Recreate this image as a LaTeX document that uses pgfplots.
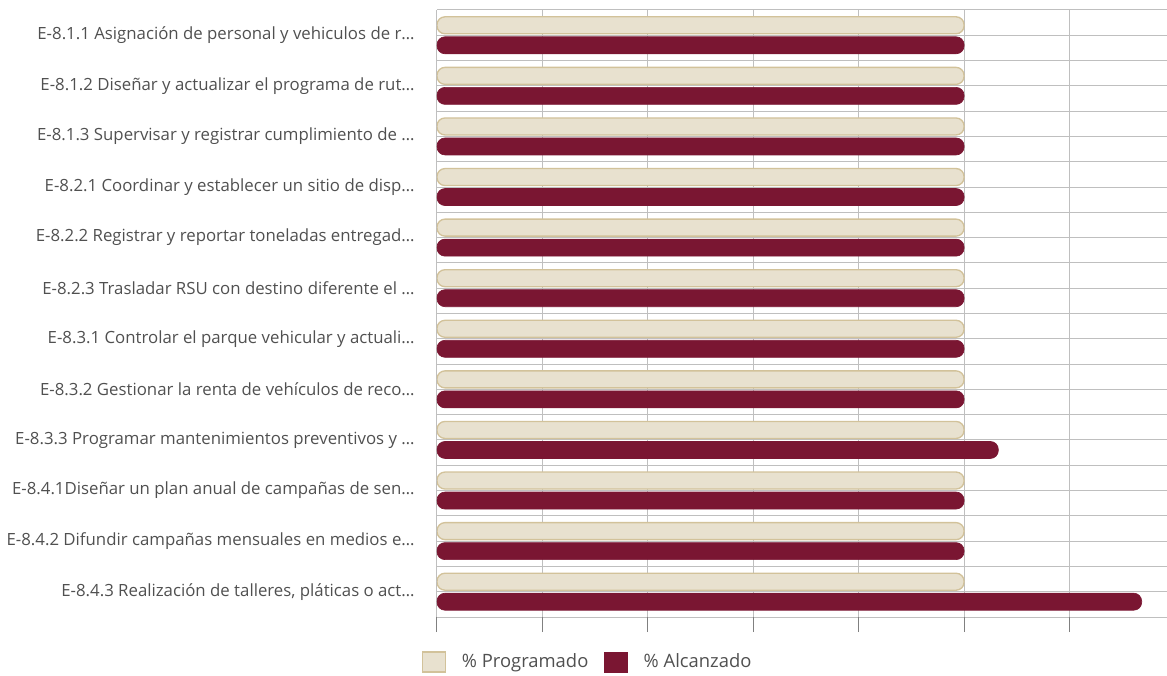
\documentclass[border=0pt]{standalone}
\usepackage{pgfplots}
\pgfplotsset{compat=1.18}
\usepackage{fontspec}
\setmainfont{Open Sans}
\definecolor{grid}{HTML}{E3E3E3}
\definecolor{lab}{HTML}{505050}
\definecolor{progfill}{HTML}{E8E1CF}
\definecolor{progdraw}{HTML}{D2C29A}
\definecolor{alc}{HTML}{7A1632}
\begin{document}
\begin{tikzpicture}[x=1pt,y=1pt]
\path[use as bounding box] (-327.75,-43.5) rectangle (547.5,462.75);
\begin{axis}[
  at={(0,0)}, anchor=south west,
  scale only axis, width=547.5pt, height=455.25pt,
  xmin=0, xmax=138.5, ymin=-0.5, ymax=11.5,
  axis line style={draw=none},
  xtick={0,20,...,120}, xticklabel=\empty,
  xmajorgrids, major grid style={grid, line width=0.75pt},
  minor grid style={grid, line width=0.75pt},
  tick style={grid, line width=0.75pt},
  tick align=outside, xtick pos=left, ytick pos=left,
  major tick length=11.25pt, minor tick length=16.5pt,
  ytick={0,...,11},
  yticklabels={
    E-8.4.3 Realización de talleres{,} pláticas o act…,
    E-8.4.2 Difundir campañas mensuales en medios e…,
    E-8.4.1Diseñar un plan anual de campañas de sen…,
    E-8.3.3 Programar mantenimientos preventivos y …,
    E-8.3.2 Gestionar la renta de vehículos de reco…,
    E-8.3.1 Controlar el parque vehicular y actuali…,
    E-8.2.3 Trasladar RSU con destino diferente el …,
    E-8.2.2 Registrar y reportar toneladas entregad…,
    E-8.2.1 Coordinar y establecer un sitio de disp…,
    E-8.1.3 Supervisar y registrar cumplimiento de …,
    E-8.1.2 Diseñar y actualizar el programa de rut…,
    E-8.1.1 Asignación de personal y vehiculos de r…},
  ytick style={draw=none},
  minor ytick={-0.5,0.5,...,11.5}, yminorgrids,
  minor tick style={grid, line width=0.75pt},
  yticklabel style={font=\fontsize{12.6}{15}\selectfont, text=lab, xshift=-2pt},
  xbar, bar width=12.75pt,
  legend style={at={(axis description cs:0,0)}, anchor=west, xshift=-14.5pt, yshift=-33.75pt,
    draw=none, fill=none, font=\fontsize{13.8}{16}\selectfont, text=lab,
    legend columns=2, column sep=9pt,
    nodes={inner xsep=3pt}},
  legend cell align=left,
]
\addplot[fill=progfill, draw=progdraw, line width=1pt, rounded corners=6pt, bar shift=7.5pt,
  legend image code/.code={\draw[sharp corners, fill=progfill, draw=progdraw, line width=1pt] (0pt,-7.5pt) rectangle (17pt,7.5pt);}]
  coordinates {(100,11) (100,10) (100,9) (100,8) (100,7) (100,6) (100,5) (100,4) (100,3) (100,2) (100,1) (100,0)};
\addplot[fill=alc, draw=alc, line width=0.5pt, rounded corners=6pt, bar shift=-7.5pt,
  legend image code/.code={\draw[sharp corners, fill=alc, draw=alc] (0pt,-7.5pt) rectangle (17pt,7.5pt);}]
  coordinates {(100,11) (100,10) (100,9) (100,8) (100,7) (100,6) (100,5) (100,4) (106.5,3) (100,2) (100,1) (133.7,0)};
\legend{\% Programado, \% Alcanzado}
\end{axis}
\end{tikzpicture}
\end{document}
